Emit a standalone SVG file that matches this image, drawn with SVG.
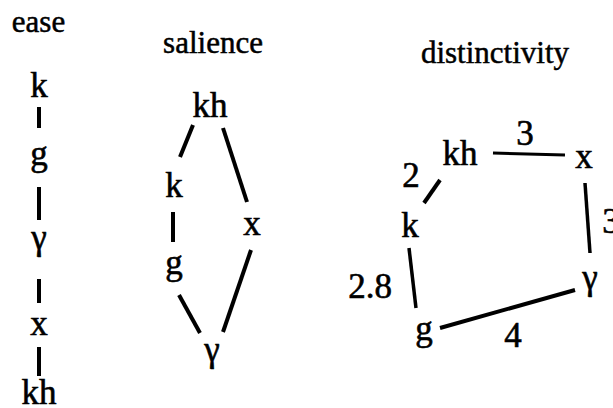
<svg xmlns="http://www.w3.org/2000/svg" width="613" height="408" viewBox="0 0 613 408">
<style>
.lab { font-family: Liberation Serif, serif; font-size: 31px; text-anchor: middle; fill: #000; stroke: #000; stroke-width: 0.5; }
.n { font-family: Liberation Serif, serif; font-size: 35px; text-anchor: middle; fill: #000; stroke: #000; stroke-width: 0.6; }
.w { font-family: Liberation Serif, serif; font-size: 35px; text-anchor: middle; fill: #000; stroke: #000; stroke-width: 0.6; }
.e line { stroke: #000; stroke-width: 4; stroke-linecap: butt; }
</style>
<rect width="613" height="408" fill="#fff"/>
<g id="titles">
<text class="lab" font-family="Liberation Serif" x="38.5" y="32">ease</text>
<text class="lab" font-family="Liberation Serif" x="213" y="53">salience</text>
<text class="lab" font-family="Liberation Serif" x="495" y="63">distinctivity</text>
</g>
<g id="ease-nodes">
<g id="ease-k"><text class="n" font-family="Liberation Serif" x="39" y="97">k</text></g>
<g id="ease-g"><text class="n" font-family="Liberation Serif" x="39" y="165">g</text></g>
<g id="ease-gamma"><text class="n" font-family="Liberation Serif" x="39" y="249">γ</text></g>
<g id="ease-x"><text class="n" font-family="Liberation Serif" x="39" y="335">x</text></g>
<g id="ease-kh"><text class="n" font-family="Liberation Serif" x="39" y="404">kh</text></g>
</g>
<g id="sal-nodes">
<g id="sal-kh"><text class="n" font-family="Liberation Serif" x="210" y="117">kh</text></g>
<g id="sal-k"><text class="n" font-family="Liberation Serif" x="174" y="197">k</text></g>
<g id="sal-x"><text class="n" font-family="Liberation Serif" x="252" y="235">x</text></g>
<g id="sal-g"><text class="n" font-family="Liberation Serif" x="174" y="274">g</text></g>
<g id="sal-gamma"><text class="n" font-family="Liberation Serif" x="212" y="361">γ</text></g>
</g>
<g id="dist-nodes">
<g id="dist-kh"><text class="n" font-family="Liberation Serif" x="460" y="165">kh</text></g>
<g id="dist-x"><text class="n" font-family="Liberation Serif" x="584" y="168">x</text></g>
<g id="dist-k"><text class="n" font-family="Liberation Serif" x="410" y="237">k</text></g>
<g id="dist-gamma"><text class="n" font-family="Liberation Serif" x="590" y="289">γ</text></g>
<g id="dist-g"><text class="n" font-family="Liberation Serif" x="424" y="340">g</text></g>
</g>
<g id="weights">
<text class="w" font-family="Liberation Serif" x="525" y="145">3</text>
<text class="w" font-family="Liberation Serif" x="411" y="187">2</text>
<text class="w" font-family="Liberation Serif" x="611" y="233">3</text>
<text class="w" font-family="Liberation Serif" x="370" y="298">2.8</text>
<text class="w" font-family="Liberation Serif" x="513" y="347">4</text>
</g>
<g id="connectors" class="e">
<line x1="39" y1="107" x2="39" y2="128"/>
<line x1="39" y1="187" x2="39" y2="220"/>
<line x1="39" y1="279" x2="39" y2="303"/>
<line x1="39" y1="347" x2="39" y2="376"/>
<line x1="193" y1="125" x2="180" y2="157"/>
<line x1="223" y1="128" x2="247" y2="202"/>
<line x1="173" y1="212" x2="173" y2="242"/>
<line x1="179" y1="295" x2="200" y2="333"/>
<line x1="251" y1="250" x2="223" y2="332"/>
<line x1="493" y1="153" x2="565" y2="155" style="stroke-width:3"/>
<line x1="440" y1="180" x2="424" y2="203"/>
<line x1="585" y1="183" x2="590" y2="253" style="stroke-width:3.5"/>
<line x1="409" y1="248" x2="416" y2="308" style="stroke-width:3.5"/>
<line x1="440" y1="328" x2="575" y2="290"/>
</g>
</svg>
